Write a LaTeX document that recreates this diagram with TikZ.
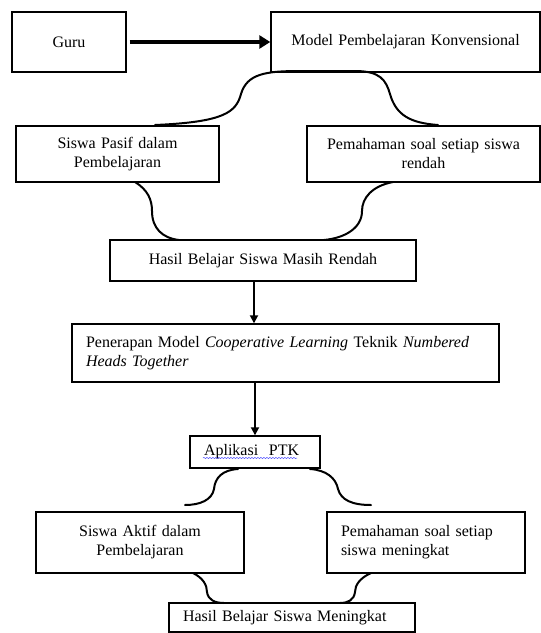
\documentclass[tikz,border=0pt]{standalone}
\usepackage{fontspec}
\setmainfont{Liberation Serif}
\usetikzlibrary{arrows.meta,decorations.pathmorphing}
\begin{document}
\begin{tikzpicture}[x=1pt,y=-1pt,
  box/.style={draw, line width=1.4pt, inner ysep=0pt, font=\fontsize{16}{19}\selectfont},
  cbox/.style={box, align=center, inner xsep=4pt},
  lbox/.style={box, align=left, inner xsep=14pt},
  curve/.style={line width=2pt, line cap=round},
  arr/.style={line width=1.8pt, -{Triangle[length=8pt,width=8pt]}},
  bigarr/.style={line width=3.6pt, -{Triangle[length=11pt,width=13pt]}}]
\useasboundingbox (0,0) rectangle (541,633);
% boxes
\node[cbox, text width=106pt, minimum height=60pt] (guru) at (69,42) {Guru};
\node[cbox, text width=261pt, minimum height=60pt] (model) at (405.5,42) {Model Pembelajaran Konvensional};
\node[cbox, text width=195pt, minimum height=56pt] (pasif) at (117.5,154) {Siswa Pasif dalam\\Pembelajaran};
\node[cbox, text width=225pt, minimum height=56pt] (rendah) at (423.5,154) {Pemahaman soal setiap siswa\\rendah};
\node[cbox, text width=298pt, minimum height=41pt] (hasil1) at (263,260.5) {Hasil Belajar Siswa Masih Rendah};
\node[lbox, text width=399pt, minimum height=58pt] (nht) at (285.5,353) {Penerapan Model \textit{Cooperative Learning} Teknik \textit{Numbered}\\\textit{Heads Together}};
\node[lbox, text width=102pt, minimum height=32pt] (ptk) at (255,452) {Aplikasi\ \ PTK};
\node[cbox, text width=200pt, minimum height=61pt] (aktif) at (140,542.5) {Siswa Aktif dalam\\Pembelajaran};
\node[lbox, text width=170pt, minimum height=61pt] (ningkat) at (426,542.5) {Pemahaman soal setiap\\siswa meningkat};
\node[lbox, text width=218pt, minimum height=29pt] (hasil2) at (292,617.5) {Hasil Belajar Siswa Meningkat};
% spell-check underline
\coordinate (wl) at (203,458);
\coordinate (wr) at (297,458);
\draw[blue!70, line width=0.5pt, decorate, decoration={snake, segment length=3pt, amplitude=0.6pt}] (wl) -- (wr);
% arrows
\draw[bigarr, shorten <=3pt] (guru) -- (model);
\coordinate (c1) at (254,0);
\draw[arr] (hasil1.south -| c1) -- (nht.north -| c1);
\draw[arr] (nht.south -| ptk) -- (ptk.north);
% top brace
\coordinate (t1) at (155,125);
\coordinate (t2) at (438,125);
\draw[curve] (t1) .. controls (225,122) and (236,112) .. (241,94)
  .. controls (247,74) and (265,71) .. (300,71) -- (355,71)
  .. controls (380,71) and (386,80) .. (390,94)
  .. controls (396,115) and (410,123) .. (t2);
% middle braces
\coordinate (m1) at (135,182);
\coordinate (m2) at (179,240);
\coordinate (m3) at (393,182);
\coordinate (m4) at (324,240);
\draw[curve] (m1) .. controls (148,190) and (152,200) .. (152,211) .. controls (152,228) and (162,238) .. (m2);
\draw[curve] (m3) .. controls (372,186) and (362,198) .. (362,211) .. controls (362,228) and (345,238) .. (m4);
% aplikasi braces
\coordinate (a1) at (238,469);
\coordinate (a2) at (185,505);
\coordinate (a3) at (310,469);
\coordinate (a4) at (371,505);
\draw[curve] (a1) .. controls (222,470) and (215,478) .. (214,489) .. controls (212,500) and (200,505) .. (a2);
\draw[curve] (a3) .. controls (326,470) and (336,478) .. (338,489) .. controls (341,500) and (352,505) .. (a4);
% bottom braces
\coordinate (b1) at (193,573);
\coordinate (b2) at (224,603);
\coordinate (b3) at (371,573);
\coordinate (b4) at (340,603);
\draw[curve] (b1) .. controls (203,578) and (207,585) .. (207,592) .. controls (208,600) and (215,603) .. (b2);
\draw[curve] (b3) .. controls (360,578) and (355,585) .. (355,592) .. controls (354,600) and (348,603) .. (b4);
\end{tikzpicture}
\end{document}
